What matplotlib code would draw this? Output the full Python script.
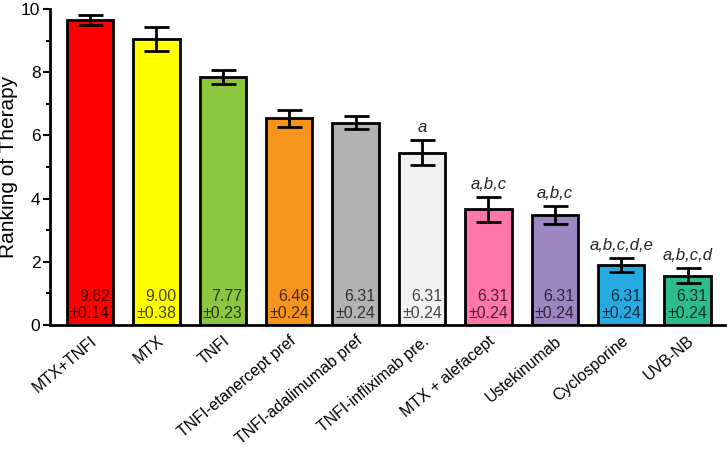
import numpy as np
import matplotlib.pyplot as plt

plt.rcParams['font.family'] = ['Liberation Sans', 'DejaVu Sans']

# therapies and their mean ranking
therapies = ['MTX+TNFI', 'MTX', 'TNFI', 'TNFI-etanercept pref', 'TNFI-adalimumab pref',
             'TNFI-infliximab pre.', 'MTX + alefacept', 'Ustekinumab', 'Cyclosporine', 'UVB-NB']
ranking = [9.65, 9.06, 7.86, 6.54, 6.40, 5.45, 3.66, 3.48, 1.90, 1.56]
errors = [0.16, 0.38, 0.22, 0.27, 0.20, 0.40, 0.40, 0.28, 0.22, 0.24]

# labels printed inside the bars
mean_labels = ['9.62', '9.00', '7.77', '6.46', '6.31', '6.31', '6.31', '6.31', '6.31', '6.31']
sd_labels = ['±0.14', '±0.38', '±0.23', '±0.24', '±0.24', '±0.24', '±0.24', '±0.24', '±0.24', '±0.24']

# significance letters above the bars
signif = ['', '', '', '', '', 'a', 'a,b,c', 'a,b,c', 'a,b,c,d,e', 'a,b,c,d']

bar_colors = ['#ff0000', '#ffff00', '#8dc63f', '#f7941d', '#b3b3b3',
              '#f2f2f2', '#ff77a8', '#9b86c2', '#27aae1', '#2bbd8e']

fig = plt.figure(figsize=(7.27, 4.5), dpi=100)
ax = fig.add_axes([0.069, 0.278, 0.928, 0.702])

x = np.arange(len(therapies))
ax.bar(x, ranking, width=0.7, color=bar_colors, edgecolor='black', linewidth=2, zorder=2)
ax.errorbar(x, ranking, yerr=errors, fmt='none', ecolor='black', elinewidth=2,
            capsize=9, capthick=2, zorder=3)

for i in range(len(therapies)):
    ax.text(x[i] + 0.3, 0.13, mean_labels[i] + '\n' + sd_labels[i], ha='right', va='bottom',
            fontsize=11.5, color='black', alpha=0.72, linespacing=1.15, zorder=4)
    if signif[i]:
        ax.text(x[i], ranking[i] + errors[i] + 0.15, signif[i], ha='center', va='bottom',
                fontsize=12, style='italic', color='#222222')

ax.set_xlim(-0.6, 9.56)
ax.set_ylim(0, 10)
ax.set_yticks([0, 2, 4, 6, 8, 10])
ax.set_yticks([1, 3, 5, 7, 9], minor=True)
ax.set_xticks(x)
ax.set_xticklabels(therapies, rotation=40, ha='right', rotation_mode='anchor', fontsize=11.5)
ax.tick_params(axis='x', length=0, pad=6)
ax.tick_params(axis='y', which='major', length=5, width=1.5, labelsize=12.5, pad=2)
ax.tick_params(axis='y', which='minor', length=3, width=1.5)
ax.set_ylabel('Ranking of Therapy', fontsize=15)
ax.yaxis.set_label_coords(-0.047, 0.5)

for side in ['top', 'right']:
    ax.spines[side].set_visible(False)
for side in ['left', 'bottom']:
    ax.spines[side].set_linewidth(2)

fig.savefig('out.png', dpi=100)
